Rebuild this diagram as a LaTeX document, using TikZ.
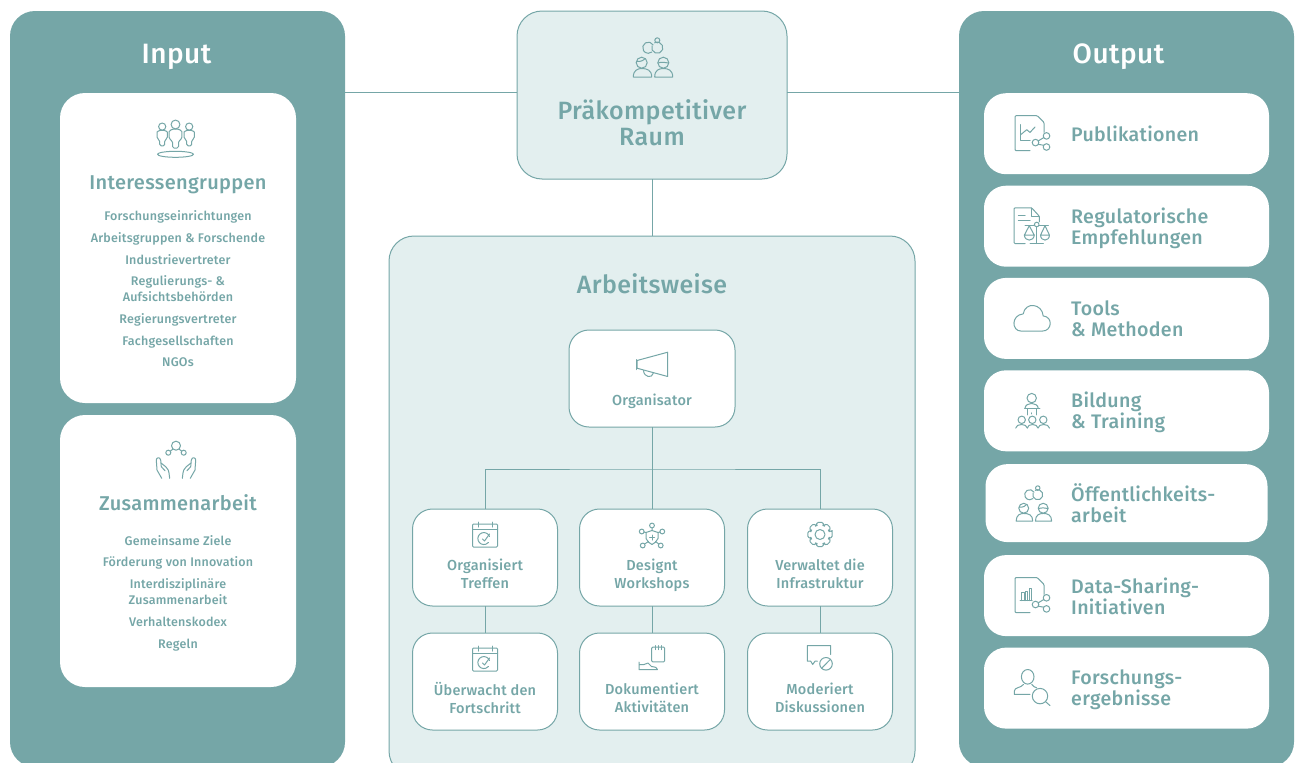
\documentclass[tikz,border=0pt]{standalone}
\usepackage{fontspec}
\setmainfont{Fira Sans Medium}[LetterSpace=1.6]
\usetikzlibrary{positioning}
\definecolor{seagreen}{RGB}{117,166,167}
\definecolor{seapale}{RGB}{227,239,239}
\tikzset{
	panel/.style={fill=seagreen,rounded corners=25pt,minimum width=335pt,minimum height=756pt,inner sep=0pt,outer sep=0pt},
	whitecard/.style={fill=white,rounded corners=25pt,minimum width=236pt,inner sep=0pt,outer sep=0pt},
	outcard/.style={fill=white,rounded corners=22pt,minimum width=285pt,minimum height=81pt,inner sep=0pt,outer sep=0pt},
	palebox/.style={draw=seagreen,fill=seapale,line width=1pt,rounded corners=25pt,inner sep=0pt,outer sep=0pt},
	task/.style={draw=seagreen,fill=white,line width=1pt,rounded corners=20pt,minimum width=145pt,minimum height=97pt,inner sep=0pt,outer sep=0pt},
	link/.style={draw=seagreen,line width=1pt},
	iconline/.style={draw=seagreen,line width=1pt,line cap=round,line join=round},
	paneltitle/.style={text=white,font=\fontsize{28}{30}\selectfont},
	bigtext/.style={text=seagreen,align=center,font=\fontsize{25}{26}\selectfont},
	headtext/.style={text=seagreen,align=center,font=\fontsize{20}{22}\selectfont},
	listtext/.style={text=seagreen,align=center,font=\fontsize{12.5}{16}\selectfont},
	tasktext/.style={text=seagreen,align=center,font=\fontsize{14.5}{18}\selectfont,execute at begin node=\rule{0pt}{12pt},execute at end node=\rule[-4pt]{0pt}{4pt}},
	outtext/.style={text=seagreen,align=left,anchor=west,inner sep=0pt,font=\fontsize{19.6}{21.3}\selectfont,execute at begin node=\rule{0pt}{15pt},execute at end node=\rule[-5pt]{0pt}{5pt}},
	figure/.pic={
		\draw[iconline] (0,-9.5) circle (4.4);
		\draw[iconline,rounded corners=1.5pt] (-3,14) -- (-3,7) -- (-6.3,5) -- (-6.3,-1) .. controls (-6.3,-3.5) and (-3,-5) .. (0,-5) .. controls (3,-5) and (6.3,-3.5) .. (6.3,-1) -- (6.3,5) -- (3,7) -- (3,14) -- cycle;
	},
	crowd/.pic={
		\pic at (-13.3,-4.6) [scale=.82] {figure};
		\pic at (13.7,-4.6) [scale=.82] {figure};
		\pic at (0,-5) {figure};
		\draw[iconline] (0,15.3) ellipse (18 and 3);
	},
	partners/.pic={
		\draw[iconline] (-3.7,-9.3) ++(-30:5.6) arc[start angle=-30,end angle=-310,radius=5.6];
		\draw[iconline] (5.3,-9.3) ++(200:5.6) arc[start angle=200,end angle=-120,radius=5.6];
		\draw[iconline] (5.3,-16.7) circle (2.5);
		\draw[iconline] (-10.3,5.7) circle (5.5);
		\draw[iconline] (11.3,5.7) circle (5.5);
		\draw[iconline] (-15.5,4.5) .. controls (-11,5) and (-8,3) .. (-7,1.5);
		\draw[iconline] (6,6) .. controls (9,5) and (13,5) .. (16.5,6);
		\draw[iconline] (-18.7,20) .. controls (-18.7,13) and (-14,11.5) .. (-10.3,11.5) .. controls (-5,11.5) and (-.3,13) .. (-.3,20) -- cycle;
		\draw[iconline] (2.7,20) .. controls (2.7,13) and (7,11.5) .. (11.5,11.5) .. controls (16,11.5) and (20.7,13) .. (20.7,20) -- cycle;
	},
	palm/.pic={
		\draw[iconline] (-14.3,21.3) -- (-19,13) -- (-19.7,3) .. controls (-19.7,.5) and (-16,-.5) .. (-15.3,3) -- (-14.7,9.7) -- (-11,13.7);
		\draw[iconline] (-15,6) -- (-10.3,9.7) .. controls (-8,12) and (-7,14) .. (-7,16) -- (-6.3,21.3);
	},
	helpers/.pic={
		\draw[iconline] (0,-11.3) circle (4.5);
		\draw[iconline] (-7.7,-4.3) circle (2.5);
		\draw[iconline] (7.7,-4.3) circle (2.5);
		\draw[iconline] (-3,-8) -- (-5.7,-5.8) (3,-8) -- (5.7,-5.8);
		\pic {palm};
		\pic [xscale=-1] {palm};
	},
	horn/.pic={
		\draw[iconline] (-15,-4) -- (15.7,-12.3) -- (15.7,12) -- (-15,3.7) -- cycle;
		\draw[iconline] (-16,-5) -- (-16,5);
		\draw[iconline] (-8.5,6) .. controls (-8,13) and (0,14) .. (1.3,8.8);
	},
	calendar/.pic={
		\draw[iconline,rounded corners=1pt] (-12.5,-11.5) rectangle (12.5,11.5);
		\draw[iconline] (-12.5,-6) -- (12.5,-6);
		\draw[iconline] (-7,-13.5) -- (-7,-8.5) (7,-13.5) -- (7,-8.5);
		\draw[iconline] (4.5,1) arc[start angle=-20,end angle=-320,radius=6];
		\draw[iconline] (-2.5,3.5) -- (-.5,5.5) -- (4.5,-1.5);
	},
	shieldnet/.pic={
		\draw[iconline] (-6,-3) -- (0,-5) -- (6,-3) -- (6,3) .. controls (5,6) and (2,8) .. (0,9) .. controls (-2,8) and (-5,6) .. (-6,3) -- cycle;
		\draw[iconline] (-2.5,2) -- (2.5,2) (0,-.5) -- (0,4.5);
		\draw[iconline] (0,-10) circle (2.4) (-10.3,-4) circle (2.4) (10.3,-4) circle (2.4) (-9.3,10) circle (2.4) (8.7,10) circle (2.4);
		\draw[iconline] (0,-7.6) -- (0,-5) (-8.1,-3.4) -- (-6,-3) (8.1,-3.4) -- (6,-3) (-7.4,8.5) -- (-3.5,6) (6.8,8.5) -- (3.5,6);
	},
	gearwheel/.pic={
		\draw[iconline,rounded corners=1.2pt] (-13:12.5) \foreach \a in {0,45,...,315} { -- (\a-13:12.5) -- (\a+13:12.5) -- (\a+24:9.5) -- (\a+45-24:9.5) } -- cycle;
		\draw[iconline] (0,0) circle (5);
	},
	notepad/.pic={
		\draw[iconline,rounded corners=1pt] (-.3,-12.3) rectangle (12.7,2.3);
		\draw[iconline] (3,-14) -- (3,-10) (6.2,-14) -- (6.2,-10) (9.4,-14) -- (9.4,-10);
		\draw[iconline] (-13,2.5) -- (-13,10) -- (5.5,10) .. controls (5.5,8) and (3,7.5) .. (-.5,7) -- (-4,3.5) -- (-8,5) -- (-13,5);
	},
	chatstop/.pic={
		\draw[iconline] (10.7,-5) -- (10.7,-14) -- (-12.7,-14) -- (-12.7,1.7) -- (-9.3,1.7) -- (-7.3,5) -- (-5,1.7) -- (-2.7,1.7);
		\draw[iconline] (6,4.3) circle (6.3);
		\draw[iconline] (1.6,8.8) -- (10.4,-.2);
	},
	sharedoc/.pic={
		\draw[iconline,rounded corners=1pt] (11,-1.3) -- (11,-11.3) -- (4.3,-18) -- (-18,-18) -- (-18,17) -- (-3,17);
		\draw[iconline] (2.5,8.9) circle (3.3) (13.5,2.2) circle (3.3) (13.5,13.3) circle (3.3);
		\draw[iconline] (5.3,7.2) -- (10.7,3.9) (5.3,10.6) -- (10.7,11.6);
	},
	linechart/.pic={
		\pic {sharedoc};
		\draw[iconline] (-12.3,-9) -- (-12.3,6.7) -- (-3,6.7);
		\draw[iconline] (-12.3,1) -- (-6.3,-4) -- (-3,-1.3) -- (2,-6.7);
	},
	barchart/.pic={
		\pic {sharedoc};
		\draw[iconline] (-13,5) -- (-1,5);
		\draw[iconline] (-11.3,5) -- (-11.3,-2.7) -- (-8.7,-2.7) -- (-8.7,5) (-7.3,5) -- (-7.3,-4.3) -- (-5.3,-4.3) -- (-5.3,5) (-3.7,5) -- (-3.7,-7) -- (-1.5,-7) -- (-1.5,5);
	},
	lawdoc/.pic={
		\draw[iconline,rounded corners=1pt] (6.3,-4.3) -- (6.3,-10) -- (-1.3,-18.3) -- (-19,-18.3) -- (-19,17.3) -- (-8,17.3);
		\draw[iconline] (-1.3,-18.3) -- (-1.3,-10) -- (6.3,-10);
		\draw[iconline] (-14.7,-11) -- (-8,-11) (-14.7,-5.3) -- (-3,-5.3);
		\draw[iconline] (3.7,-1.7) circle (2.3);
		\draw[iconline] (-8,-1) -- (1.4,-1) (6,-1) -- (15.3,-1) (3.7,.6) -- (3.7,17.3) (-3,17.3) -- (10.3,17.3);
		\draw[iconline] (-8.7,9) -- (-3.7,-.5) -- (1.3,9) -- cycle (-8.7,9) .. controls (-8,15.5) and (.5,15.5) .. (1.3,9);
		\draw[iconline] (7.5,9) -- (12,-.5) -- (16.5,9) -- cycle (7.5,9) .. controls (8,15.5) and (16,15.5) .. (16.5,9);
	},
	cloudshape/.pic={
		\draw[iconline] (-11,12.7) -- (10,12.7) .. controls (20,12.7) and (21,-1.5) .. (11,-2.5) .. controls (10,-15) and (-7,-17) .. (-9,-4.5) .. controls (-21,-3.5) and (-21,12.7) .. (-11,12.7) -- cycle;
	},
	teaching/.pic={
		\draw[iconline] (-1.3,-12.7) circle (4.7);
		\draw[iconline] (-8,-2.5) .. controls (-7.5,-9) and (4.5,-9) .. (5.3,-2.5);
		\draw[iconline] (-8.5,-2) -- (6.8,-2) (-5.7,-2) -- (-5.7,4) (3.7,-2) -- (3.7,4);
		\draw[iconline] (-1.3,2) -- (-1.3,3);
		\draw[iconline] (-11.3,9) circle (3.7) (-.7,9) circle (3.7) (10.3,9) circle (3.7);
		\draw[iconline] (-17.3,17.3) .. controls (-17,12.5) and (-6,12.5) .. (-5.7,17.3) .. controls (-5.5,12.5) and (4.5,12.5) .. (5,17.3) .. controls (5.3,12.5) and (16,12.5) .. (16.5,17.3);
	},
	seeker/.pic={
		\draw[iconline] (-5.3,-11.3) ellipse (6.3 and 7.3);
		\draw[iconline] (-9.5,-3.7) .. controls (-12,0) and (-18.7,-1) .. (-18.7,3) -- (-18.7,6.3) -- (-3,6.3);
		\draw[iconline] (-1.3,-3.7) .. controls (0,-1.5) and (2,-1) .. (3.7,-.3);
		\draw[iconline] (7,8) circle (7.7);
		\draw[iconline] (12.5,13.5) -- (17,17.5);
	},
}
\begin{document}
\begin{tikzpicture}[x=1pt,y=-1pt,on grid]
	\useasboundingbox (0,0) rectangle (1296,763);
	\clip (0,0) rectangle (1296,763);
	\node[panel] (input) at (177.5,389) {};
	\node[panel] (output) at (1126.5,389) {};
	\node[palebox,minimum width=270pt,minimum height=168pt] (raum) at (652,95) {};
	\node[palebox,minimum width=526pt,minimum height=540pt] (arbeit) at (652,506) {};
	\draw[link] ([yshift=3pt]raum.west) -- ([yshift=3pt]raum.west -| input.east);
	\draw[link] ([yshift=3pt]raum.east) -- ([yshift=3pt]raum.east -| output.west);
	\draw[link] (raum.south) -- (arbeit.north);
	\node[paneltitle] (inputtitle) at (176.5,56.5) {Input};
	\node[paneltitle] (outputtitle) at (1118.5,56.5) {Output};
	\pic at ([yshift=38pt]raum.center) {partners};
	\node[bigtext] (raumtext) at (652,123) {Präkompetitiver\\Raum};

	\node[whitecard,minimum height=310pt] (stake) at (178,248) {};
	\node[whitecard,minimum height=272pt] (collab) at (178,551) {};
	\pic at ([xshift=-2.5pt,yshift=-46pt]stake.north) {crowd};
	\node[headtext] (staketitle) at ([yshift=-92pt]stake.north) {Interessengruppen};
	\node[listtext] (stakelist) at ([yshift=-196pt]stake.north) {Forschungseinrichtungen\\[5.7pt]Arbeitsgruppen \& Forschende\\[5.7pt]Industrievertreter\\[5.7pt]Regulierungs- \&\\Aufsichtsbehörden\\[5.7pt]Regierungsvertreter\\[5.7pt]Fachgesellschaften\\[5.7pt]NGOs};
	\pic at ([xshift=-2pt,yshift=-42pt]collab.north) {helpers};
	\node[headtext] (collabtitle) at ([yshift=-88pt]collab.north) {Zusammenarbeit};
	\node[listtext] (collablist) at ([yshift=-178pt]collab.north) {Gemeinsame Ziele\\[5.7pt]Förderung von Innovation\\[5.7pt]Interdisziplinäre\\Zusammenarbeit\\[5.7pt]Verhaltenskodex\\[5.7pt]Regeln};

	\node[bigtext] (arbeittitle) at (652,284) {Arbeitsweise};
	\node[task,minimum width=166pt] (org) at (652,378.5) {};
	\node[task] (meet) at (485,557.5) {};
	\node[task] (design) [right=167pt of meet] {};
	\node[task] (infra) [right=168pt of design] {};
	\node[task] (watch) [below=124pt of meet] {};
	\node[task] (docu) [below=124pt of design] {};
	\node[task] (moder) [below=124pt of infra] {};
	\coordinate (bus) at ([yshift=-42pt]org.south);
	\draw[link] (org.south) -- (design.north);
	\draw[link] (meet.north) |- (bus) -| (infra.north);
	\draw[link] (meet.south) -- (watch.north);
	\draw[link] (design.south) -- (docu.north);
	\draw[link] (infra.south) -- (moder.north);
	\pic at ([yshift=14pt]org.center) {horn};
	\node[tasktext] (orgtext) at ([yshift=-71.7pt]org.north) {Organisator};
	\pic at ([yshift=22pt]meet.center) {calendar};
	\node[tasktext] (meettext) at ([yshift=-66.5pt]meet.north) {Organisiert\\Treffen};
	\pic at ([yshift=22pt]design.center) {shieldnet};
	\node[tasktext] (designtext) at ([yshift=-66.5pt]design.north) {Designt\\Workshops};
	\pic at ([yshift=23pt]infra.center) {gearwheel};
	\node[tasktext] (infratext) at ([yshift=-66.5pt]infra.north) {Verwaltet die\\Infrastruktur};
	\pic at ([yshift=22pt]watch.center) {calendar};
	\node[tasktext] (watchtext) at ([yshift=-66.5pt]watch.north) {Überwacht den\\Fortschritt};
	\pic at ([yshift=22pt]docu.center) {notepad};
	\node[tasktext] (docutext) at ([yshift=-66.5pt]docu.north) {Dokumentiert\\Aktivitäten};
	\pic at ([yshift=22pt]moder.center) {chatstop};
	\node[tasktext] (modertext) at ([yshift=-66.5pt]moder.north) {Moderiert\\Diskussionen};

	\node[outcard] (pub) at (1126.5,133.7) {};
	\node[outcard] (reg) [below=92.5pt of pub] {};
	\node[outcard] (tools) [below=92.2pt of reg] {};
	\node[outcard] (edu) [below=92.4pt of tools] {};
	\node[outcard,minimum width=282pt,minimum height=78pt] (public) [below=92.3pt of edu] {};
	\node[outcard] (share) [below=92.5pt of public] {};
	\node[outcard] (result) [below=92.5pt of share] {};
	\pic at ([xshift=-93.5pt]pub.center) {linechart};
	\node[outtext] (pubtext) at (1071,136) {Publikationen};
	\pic at ([xshift=-93.5pt]reg.center) {lawdoc};
	\node[outtext] (regtext) at (1071,228.4) {Regulatorische\\Empfehlungen};
	\pic at ([xshift=-94.3pt]tools.center) {cloudshape};
	\node[outtext] (toolstext) at (1071,321) {Tools\\\& Methoden};
	\pic at ([xshift=-93.5pt]edu.center) {teaching};
	\node[outtext] (edutext) at (1071,412.4) {Bildung\\\& Training};
	\pic at ([xshift=-93.5pt]public.center) [scale=.9] {partners};
	\node[outtext] (publictext) at (1071,505.7) {Öffentlichkeits-\\arbeit};
	\pic at ([xshift=-93.5pt]share.center) {barchart};
	\node[outtext] (sharetext) at (1071,598.4) {Data-Sharing-\\Initiativen};
	\pic at ([xshift=-93.5pt]result.center) {seeker};
	\node[outtext] (resulttext) at (1071,690) {Forschungs-\\ergebnisse};
\end{tikzpicture}
\end{document}
